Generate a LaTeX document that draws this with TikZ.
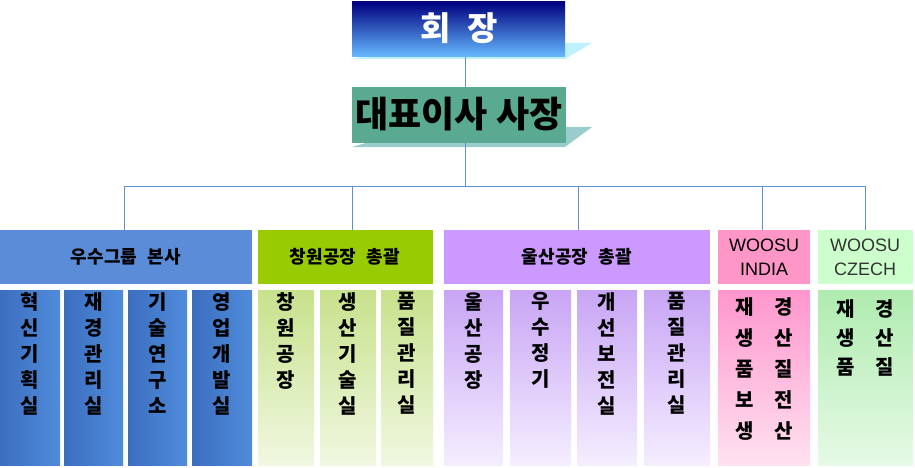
\documentclass[tikz,border=0pt]{standalone}
\usepackage{fontspec}
\newfontfamily\cjk{Noto Sans CJK KR}
\newfontfamily\lat{Liberation Sans}
\usetikzlibrary{positioning}
\begin{document}
\begin{tikzpicture}[x=1pt,y=-1pt,
  ln/.style={draw=black!20!cyan!60!blue!70, line width=0.8pt},
  hdr/.style={font=\cjk\bfseries\fontsize{18}{20}\selectfont, align=center},
  vt/.style={font=\cjk\bfseries\fontsize{20}{26}\selectfont, align=center, anchor=north}]
\useasboundingbox (0,0) rectangle (915,468);
% shadows
\fill[blue!20!cyan!25] (352,59) -- (565,59) -- (592,43) -- (420,43) -- cycle;
\fill[teal!40] (352,147) -- (565,147) -- (592,127) -- (420,127) -- cycle;
% top
\shade[top color=blue!50!black, bottom color=blue!45!cyan!60] (352,2) rectangle (565,57);
\node[font=\cjk\bfseries\fontsize{33}{34}\selectfont, text=white] (ceo) at (459,28) {회\hspace{0.5em}장};
\fill[fill={rgb,255:red,90;green,170;blue,145}] (352,87) rectangle (566,143);
\node[font=\cjk\bfseries\fontsize{36}{38}\selectfont] (pres) at (459,114) {대표이사 사장};
\coordinate (a1) at (465,57); \coordinate (a2) at (465,87);
\coordinate (a3) at (465,143); \coordinate (a4) at (465,186);
\draw[ln] (a1) -- (a2); \draw[ln] (a3) -- (a4);
\draw[ln] (124,186) -- (865,186);
\foreach \x in {124,352,578,762,865} \draw[ln] (\x,186) -- (\x,230);
% row headers
\fill[fill={rgb,255:red,90;green,140;blue,215}] (0,230) rectangle (252,284);
\node[hdr] (h1) at (126,257) {우수그룹\hspace{0.6em}본사};
\fill[fill={rgb,255:red,153;green,204;blue,0}] (258,230) rectangle (433,284);
\node[hdr] (h2) at (345,257) {창원공장\hspace{0.6em}총괄};
\fill[fill={rgb,255:red,204;green,153;blue,255}] (444,230) rectangle (710,284);
\node[hdr] (h3) at (577,257) {울산공장\hspace{0.6em}총괄};
\fill[fill={rgb,255:red,255;green,150;blue,200}] (718,230) rectangle (810,284);
\node[hdr, font=\lat\fontsize{18}{24}\selectfont] (h4) at (764,257) {WOOSU\\INDIA};
\fill[fill={rgb,255:red,204;green,255;blue,204}] (818,230) rectangle (913,284);
\node[hdr, font=\lat\fontsize{18}{24}\selectfont, text=black!80] (h5) at (865,257) {WOOSU\\CZECH};
% sub boxes
\foreach \a/\b/\t in {0/60/혁\\신\\기\\획\\실, 64/123/재\\경\\관\\리\\실, 128/187/기\\술\\연\\구\\소, 192/252/영\\업\\개\\발\\실}{
  \shade[left color={rgb,255:red,60;green,110;blue,190}, right color={rgb,255:red,80;green,140;blue,220}] (\a,290) rectangle (\b,465);
  \node[vt] at ({(\a+\b)/2},289) {\t};}
\foreach \a/\b/\t in {258/314/창\\원\\공\\장, 320/376/생\\산\\기\\술\\실, 381/433/품\\질\\관\\리\\실}{
  \shade[top color={rgb,255:red,200;green,225;blue,140}, bottom color={rgb,255:red,240;green,248;blue,225}] (\a,290) rectangle (\b,465);
  \node[vt] at ({(\a+\b)/2},289) {\t};}
\foreach \a/\b/\t in {444/503/울\\산\\공\\장, 510/571/우\\수\\정\\기, 577/637/개\\선\\보\\전\\실, 644/710/품\\질\\관\\리\\실}{
  \shade[top color={rgb,255:red,200;green,165;blue,245}, bottom color={rgb,255:red,245;green,238;blue,255}] (\a,290) rectangle (\b,465);
  \node[vt] at ({(\a+\b)/2},289) {\t};}
\shade[top color={rgb,255:red,255;green,150;blue,205}, bottom color={rgb,255:red,255;green,225;blue,240}] (718,290) rectangle (810,465);
\node[vt, font=\cjk\bfseries\fontsize{20}{31}\selectfont] (s4) at (764,294) {재\quad 경\\생\quad 산\\품\quad 질\\보\quad 전\\생\quad 산};
\shade[top color={rgb,255:red,175;green,235;blue,175}, bottom color={rgb,255:red,230;green,250;blue,230}] (818,290) rectangle (913,465);
\node[vt, font=\cjk\bfseries\fontsize{20}{29}\selectfont] (s5) at (865,296) {재\quad 경\\생\quad 산\\품\quad 질};
\end{tikzpicture}
\end{document}
